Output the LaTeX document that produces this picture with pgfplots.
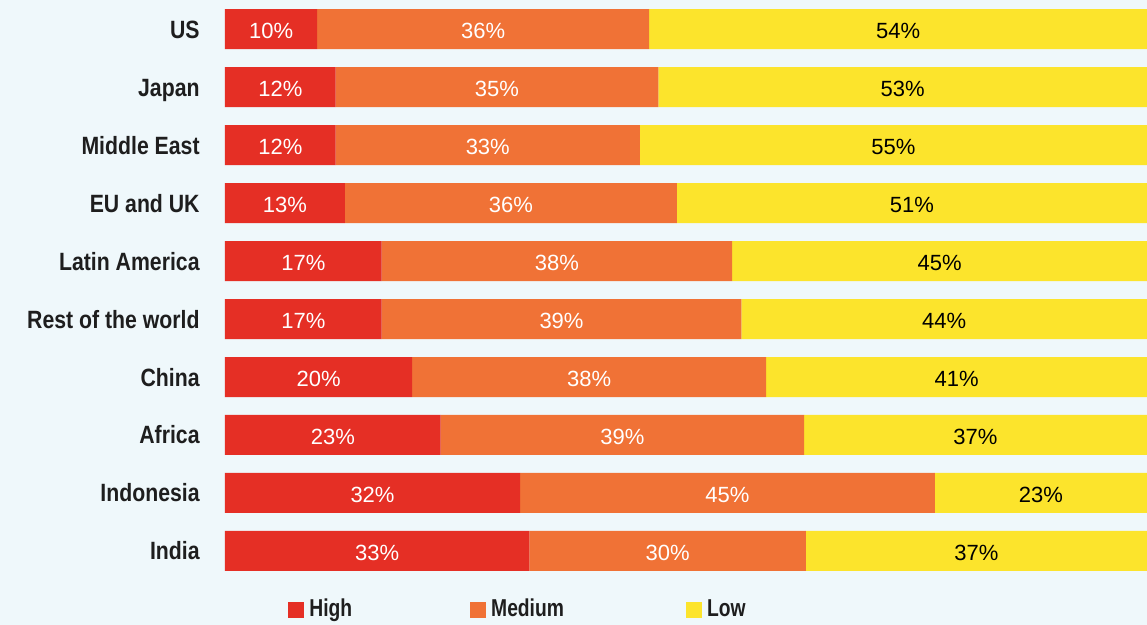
\documentclass[border=0pt]{standalone}
\usepackage{fontspec}
\setmainfont{Liberation Sans}
\newfontfamily\catfont{Liberation Sans}[FakeStretch=0.85]
\newfontfamily\legfont{Liberation Sans}[FakeStretch=0.79]
\usepackage{pgfplots}
\usepackage{pgfplotstable}
\pgfplotsset{compat=1.18}

\definecolor{cHigh}{HTML}{E52F25}
\definecolor{cMed}{HTML}{F07236}
\definecolor{cLow}{HTML}{FCE42C}
\definecolor{bgc}{HTML}{EFF8FB}
\definecolor{txt}{HTML}{1E1E1E}

% rows from top (US) to bottom (India); widths in percent
\pgfplotstableread{
y  h     m     l
0  10    36    54
1  12    35    53
2  12    33    55
3  13    36    51
4  17    38    45
5  17    39    44
6  20.3  38.4  41.3
7  23.4  39.4  37.2
8  32    45    23
9  33    30    37
}\riskdata

\begin{document}
\begin{tikzpicture}
\fill[bgc] (0,0) rectangle (573.5pt,312.5pt);
\path[use as bounding box] (0,0) rectangle (573.5pt,312.5pt);
\begin{axis}[
    at={(112.5pt,22.5pt)}, anchor=south west,
    scale only axis,
    width=461pt, height=290pt,
    xbar stacked, bar width=20pt,
    xmin=0, xmax=100,
    ymin=-0.5, ymax=9.5,
    y dir=reverse,
    axis line style={draw=none},
    xtick=\empty,
    ytick={0,...,9},
    yticklabels={US, Japan, Middle East, EU and UK, Latin America,
                 Rest of the world, China, Africa, Indonesia, India},
    major tick length=0pt,
    yticklabel style={font=\catfont\bfseries\fontsize{12.5}{14}\selectfont,
                      text=txt, anchor=base east, inner sep=0pt,
                      xshift=-12.5pt, yshift=-4.5pt},
    /pgf/number format/assume math mode=true,
    nodes near coords={\pgfmathprintnumber[fixed,precision=0]{\pgfplotspointmeta}\%},
    every node near coord/.append style={font=\fontsize{11}{13}\selectfont,
                                         anchor=base, inner sep=0pt, yshift=-4.6pt},
    legend columns=3,
    legend image code/.code={\fill[#1] (0pt,-4pt) rectangle (8pt,4pt);},
    legend style={at={(0.0683,-0.0509)}, anchor=west, draw=none, fill=none,
                  inner sep=0pt,
                  font=\legfont\bfseries\fontsize{12.2}{14}\selectfont,
                  text=txt,
                  nodes={inner sep=0pt},
                  /tikz/every odd column/.append style={column sep=2.5pt},
                  /tikz/every even column/.append style={column sep=59pt}},
]
\addplot[fill=cHigh, draw=none, point meta=\thisrow{h},
    every node near coord/.append style={text=white}]
    table[x=h, y=y] {\riskdata};
\addlegendentry{High}
\addplot[fill=cMed, draw=none, point meta=\thisrow{m},
    every node near coord/.append style={text=white}]
    table[x=m, y=y] {\riskdata};
\addlegendentry{Medium\rule{2pt}{0pt}}
\addplot[fill=cLow, draw=none, point meta=\thisrow{l},
    every node near coord/.append style={text=black}]
    table[x=l, y=y] {\riskdata};
\addlegendentry{Low}
\end{axis}
\end{tikzpicture}
\end{document}
